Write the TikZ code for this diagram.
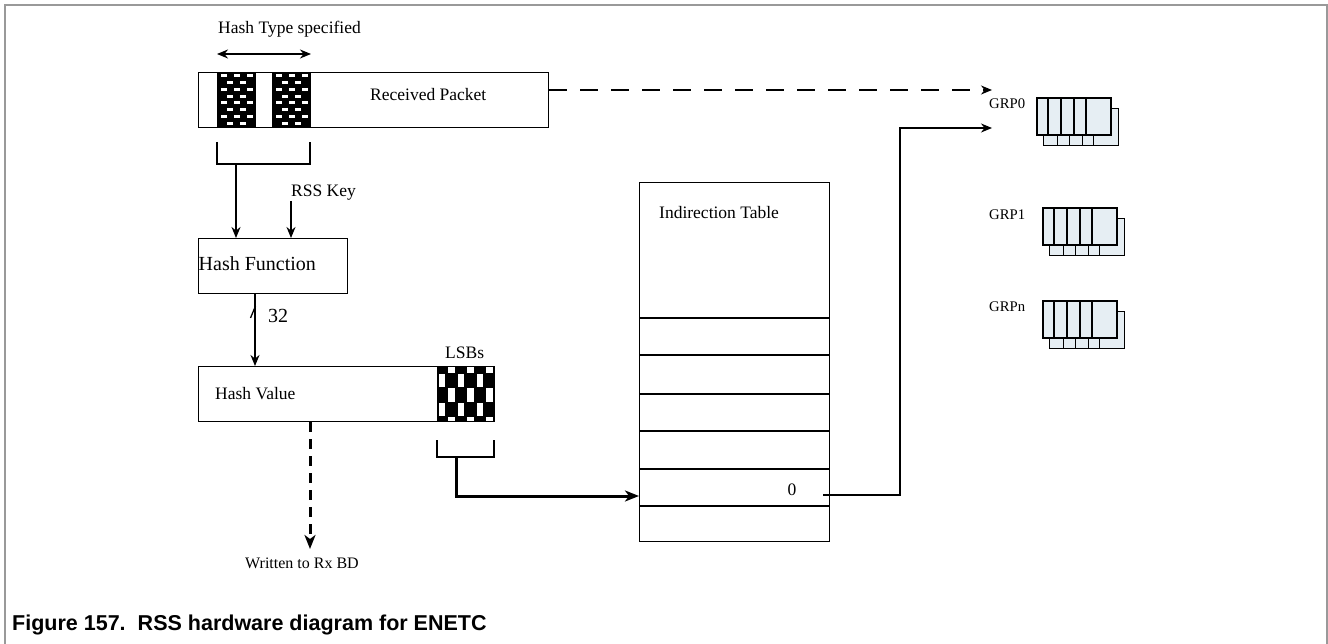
\documentclass[tikz,border=0pt]{standalone}
\usepackage{fontspec}
\setmainfont{Liberation Serif}
\newfontfamily\capfont{Liberation Sans}
\usetikzlibrary{arrows.meta}
\definecolor{qfill}{HTML}{E6EEF3}
\begin{document}
\begin{tikzpicture}[x=1pt,y=-1pt,
  lbl/.style={font=\fontsize{17.5}{20}\selectfont, inner sep=0, anchor=base west},
  grplbl/.style={font=\fontsize{14.7}{17}\selectfont, inner sep=0, anchor=base west},
  boxs/.style={draw, line width=1.4pt, inner sep=0, anchor=north west},
  ln/.style={line width=1.3pt},
  arr/.style={ln, -{Stealth[length=11pt,width=9pt,inset=3.5pt]}},
  bigarr/.style={line width=3pt, -{Stealth[length=14pt,width=11pt,inset=4pt]}},
  queue/.pic={
    \draw[line width=1.3pt, fill=qfill] (6.5,10.5) rectangle ++(75,37);
    \foreach \d in {14,26,39,50} \draw[line width=1.3pt] (6.5+\d,10.5) -- ++(0,37);
    \draw[line width=1.3pt, fill=qfill] (0,0) rectangle ++(74,37);
    \foreach \d in {11,24,37,49} \draw[line width=1.3pt] (\d,0) -- ++(0,37);
  }
]
\useasboundingbox (0,0) rectangle (1328,644);
\draw[black!40, line width=1.5pt] (5,644) -- (5,5) -- (1327,5) -- (1327,644);

% checker columns in received packet
\foreach \cx in {217,272} {
  \fill[black] (\cx,72) rectangle ++(39,55);
  \foreach \r in {0,...,7} {
    \ifodd\r
      \foreach \o in {10,23} \fill[white] ({\cx+\o},{72+\r*6.875+2}) rectangle ++(6,3);
    \else
      \foreach \o in {3.5,16.5,29.5} \fill[white] ({\cx+\o},{72+\r*6.875+2}) rectangle ++(6,3);
    \fi
  }
}
% LSB checker
\fill[black] (437,366) rectangle (494,421);
\foreach \ya/\yb/\pp in {366/373/1, 374/387/0, 388/402/1, 403/416/0, 417/421/1} {
  \foreach \k in {0,2,4} \fill[white] ({437+(\k+\pp)*9.5+1.5},\ya) rectangle ({437+(\k+\pp)*9.5+8},\yb);
}

% boxes
\node[boxs, minimum width=350pt, minimum height=55pt] (pkt) at (198,72) {};
\node[boxs, minimum width=149pt, minimum height=55pt] (hf) at (198,238) {};
\node[boxs, minimum width=296pt, minimum height=55pt] (hv) at (198,366) {};
\node[boxs, minimum width=190pt, minimum height=359pt] (tbl) at (639,182) {};
\foreach \yy in {318,355,394,431,469,506}
  \draw[line width=1.4pt] (tbl.north west |- 0,\yy) -- (tbl.north east |- 0,\yy);

% labels
\node[lbl] (hts) at (218,34) {Hash Type specified};
\node[lbl] (rp) at (370,101) {Received Packet};
\node[lbl] (rss) at (291,197) {RSS Key};
\node[lbl, font=\fontsize{20}{22}\selectfont] (hfl) at (198.5,271) {Hash Function};
\node[lbl, font=\fontsize{20}{22}\selectfont] (n32) at (268,323) {32};
\node[lbl] (hvl) at (215,399) {Hash Value};
\node[lbl] (lsb) at (445,359) {LSBs};
\node[lbl] (itl) at (659,219) {Indirection Table};
\node[lbl, anchor=base] (zero) at (792,495) {0};
\node[lbl, font=\fontsize{16}{18}\selectfont, anchor=base] (wrt) at (302,568) {Written to Rx BD};
\node[grplbl] (g0) at (989,109) {GRP0};
\node[grplbl] (g1) at (989,220) {GRP1};
\node[grplbl] (gn) at (989,312) {GRPn};
\node[font=\capfont\bfseries\fontsize{21.5}{24}\selectfont, inner sep=0, anchor=base west] (cap) at (12,630) {Figure 157.\hspace{0.56em}RSS hardware diagram for ENETC};

% queue icons
\pic at (1037,98) {queue};
\pic at (1043,208) {queue};
\pic at (1043,301) {queue};

% coordinates
\coordinate (htsL) at (217,54);
\coordinate (htsR) at (311,54);
\coordinate (brk) at (236,164);
\coordinate (rk) at (291,201);
\coordinate (wtip) at (310,549);
\coordinate (lsbb) at (456,457);
\coordinate (zo) at (823,495);
\coordinate (g0in) at (992,128);
\coordinate (g0dash) at (992,90);

% connectors
\draw[ln, {Stealth[length=11pt,width=9pt,inset=3.5pt]}-{Stealth[length=11pt,width=9pt,inset=3.5pt]}] (htsL) -- (htsR);
\draw[ln] (217,142) |- (310,164) -- (310,142);
\draw[arr] (brk) -- (brk |- hf.north);
\draw[arr] (rk) -- (rk |- hf.north);
\draw[arr] (hf.south -| 255,0) -- (hv.north -| 255,0);
\draw[ln] (250.5,318) -- (255.5,306);
\draw[line width=3pt, dash pattern=on 10pt off 7pt, -{Stealth[length=14pt,width=11pt,inset=4pt]}] (hv.south -| 310,0) -- (wtip);
\draw[ln] (437,440) |- (494,457) -- (494,440);
\draw[bigarr] (lsbb) |- (tbl.west |- 0,496);
\draw[arr] (zo) -| (900,128) -- (g0in);
\draw[ln] (548,90) -- (560,90);
\draw[arr, dash pattern=on 18pt off 13pt] (pkt.east |- 0,90) -- (g0dash);
\end{tikzpicture}
\end{document}
